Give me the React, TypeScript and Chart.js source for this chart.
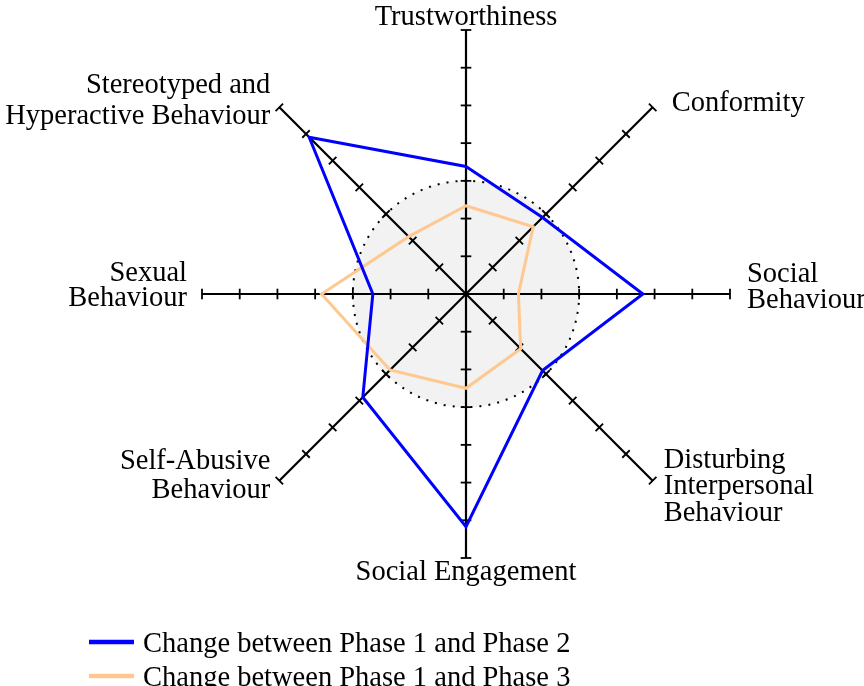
import React, { useEffect, useRef } from "react";
import { Chart, registerables } from "chart.js";

Chart.register(...registerables);

// ---- data ----
const categories: (string | string[])[] = [
  "Trustworthiness",
  "Conformity",
  ["Social", "Behaviour"],
  ["Disturbing", "Interpersonal", "Behaviour"],
  "Social Engagement",
  ["Self-Abusive", "Behaviour"],
  ["Sexual", "Behaviour"],
  ["Stereotyped and", "Hyperactive Behaviour"],
];
const phase2Change = [3.38, 2.87, 4.69, 2.87, 6.17, 3.87, 2.47, 5.88];
const phase3Change = [2.34, 2.52, 1.39, 2.05, 2.5, 2.85, 3.83, 2.15];
const seriesNames = [
  "Change between Phase 1 and Phase 2",
  "Change between Phase 1 and Phase 3",
];
const axisTicks = [1, 2, 3, 4, 5, 6, 7];
const axisMax = 7;
const referenceCircle = 3;

// ---- styling ----
const FONT = '28.5px "Liberation Serif", "Times New Roman", serif';
// per-label placement relative to axis end: [dx, dy of first baseline, align, line height]
const labelPlacement: [number, number, CanvasTextAlign, number][] = [
  [0, -5, "center", 27],
  [19, 4, "left", 27],
  [17, -12, "left", 26],
  [11, -13, "left", 26.5],
  [0, 22, "center", 27],
  [-9, -12, "right", 29],
  [-15, -13, "right", 25],
  [-9, -14, "right", 31],
];

const decorPlugin = {
  id: "decor",
  beforeDraw(chart: any) {
    const s = chart.scales.r;
    const ctx = chart.ctx as CanvasRenderingContext2D;
    const rr = s.getDistanceFromCenterForValue(referenceCircle);
    ctx.save();
    ctx.fillStyle = "#f2f2f2";
    ctx.beginPath();
    ctx.arc(s.xCenter, s.yCenter, rr, 0, Math.PI * 2);
    ctx.fill();
    ctx.setLineDash([2, 7]);
    ctx.strokeStyle = "#000";
    ctx.lineWidth = 2;
    ctx.beginPath();
    ctx.arc(s.xCenter, s.yCenter, rr, 0, Math.PI * 2);
    ctx.stroke();
    ctx.restore();
  },
  beforeDatasetsDraw(chart: any) {
    const s = chart.scales.r;
    const ctx = chart.ctx as CanvasRenderingContext2D;
    ctx.save();
    ctx.strokeStyle = "#000";
    ctx.lineWidth = 1.8;
    for (let i = 0; i < categories.length; i++) {
      for (const v of axisTicks) {
        const p = s.getPointPosition(i, s.getDistanceFromCenterForValue(v));
        const px = -Math.sin(p.angle);
        const py = Math.cos(p.angle);
        const h = 5.3;
        ctx.beginPath();
        ctx.moveTo(p.x - px * h, p.y - py * h);
        ctx.lineTo(p.x + px * h, p.y + py * h);
        ctx.stroke();
      }
    }
    ctx.restore();
  },
  afterDraw(chart: any) {
    const s = chart.scales.r;
    const ctx = chart.ctx as CanvasRenderingContext2D;
    ctx.save();
    ctx.font = FONT;
    ctx.fillStyle = "#000";
    ctx.textBaseline = "alphabetic";
    const end = s.getDistanceFromCenterForValue(axisMax);
    categories.forEach((lab, i) => {
      const p = s.getPointPosition(i, end);
      const [dx, dy, align, lh] = labelPlacement[i];
      const lines = Array.isArray(lab) ? lab : [lab];
      ctx.textAlign = align;
      lines.forEach((t, k) => {
        ctx.fillText(t, p.x + dx, p.y + dy + k * lh);
      });
    });
    // legend
    const ds = chart.data.datasets;
    ds.forEach((d: any, k: number) => {
      const y = 642 + k * 34;
      ctx.strokeStyle = d.borderColor;
      ctx.lineWidth = 4.5;
      ctx.beginPath();
      ctx.moveTo(89, y);
      ctx.lineTo(134, y);
      ctx.stroke();
      ctx.textAlign = "left";
      ctx.fillStyle = "#000";
      ctx.fillText(d.label, 143, y + 10);
    });
    ctx.restore();
  },
};

export default function App() {
  const ref = useRef<HTMLCanvasElement>(null);
  useEffect(() => {
    if (!ref.current) return;
    const chart = new Chart(ref.current, {
      type: "radar",
      data: {
        labels: categories as any,
        datasets: [
          {
            label: seriesNames[0],
            data: phase2Change,
            borderColor: "#0000ff",
            backgroundColor: "transparent",
            borderWidth: 3,
            pointRadius: 0,
            fill: false,
            borderJoinStyle: "miter",
          },
          {
            label: seriesNames[1],
            data: phase3Change,
            borderColor: "#ffc891",
            backgroundColor: "transparent",
            borderWidth: 3,
            pointRadius: 0,
            fill: false,
            borderJoinStyle: "miter",
          },
        ],
      },
      options: {
        animation: false,
        responsive: false,
        devicePixelRatio: 1,
        layout: { padding: { left: 202, right: 134, top: 30, bottom: 128 } },
        plugins: { legend: { display: false }, tooltip: { enabled: false } },
        scales: {
          r: {
            min: 0,
            max: axisMax,
            ticks: { display: false, stepSize: 1 },
            grid: { display: false },
            angleLines: { display: true, color: "#000", lineWidth: 2.2 },
            pointLabels: { display: false },
          },
        },
      },
      plugins: [decorPlugin],
    });
    return () => chart.destroy();
  }, []);
  return (
    <div style={{ position: "absolute", left: 0, top: 0, width: 864, height: 686, background: "#fff" }}>
      <canvas ref={ref} width={864} height={686} style={{ display: "block" }} />
    </div>
  );
}
